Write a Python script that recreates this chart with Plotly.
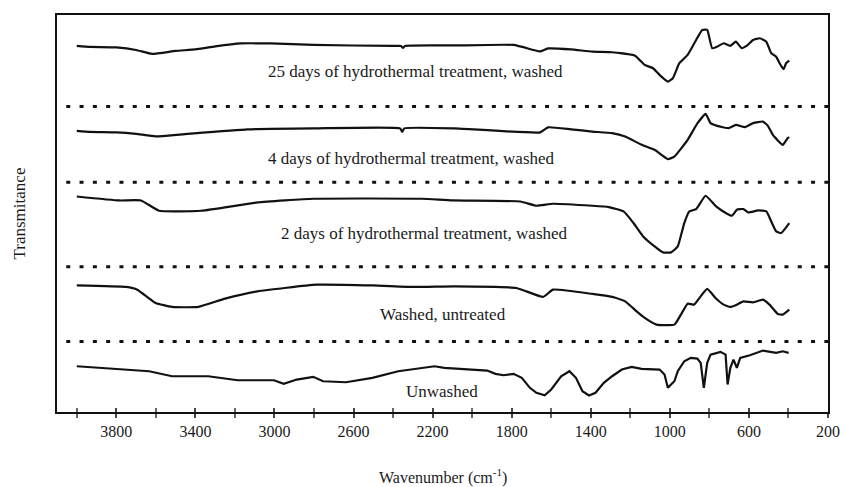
import plotly.graph_objects as go

# ---- data (wavenumber in cm-1, transmittance in arbitrary stacked units) ----
wn_25d = [4000, 3933, 3800, 3700, 3619, 3500, 3400, 3300, 3171, 3021, 2802, 2400, 2360, 2350, 2340, 2090,
          1791, 1690, 1656, 1616, 1500, 1392, 1292, 1176, 1127, 1085, 1052, 1010, 985, 952, 910, 867, 836,
          811, 786, 761, 728, 695, 666, 636, 612, 579, 545, 512, 487, 462, 445, 425, 412, 396]
t_25d = [366.5, 365.5, 365, 362.5, 358.5, 361.5, 363, 366, 369, 369, 367.5, 366.5, 366.5, 364.5, 366.5, 367,
         367.5, 362.5, 361, 364, 363, 360.8, 360.2, 356.8, 347.5, 344.2, 337.5, 330.8, 334.2, 349.2, 357.5,
         372.5, 382.5, 382.5, 364.2, 365.8, 369.2, 366.5, 370.8, 364.2, 366.5, 372.5, 374.2, 370.8, 359.2,
         355.8, 349.2, 343.2, 349.2, 351.8]

wn_4d = [4000, 3933, 3800, 3700, 3601, 3468, 3136, 2800, 2365, 2354, 2343, 2090, 1656, 1616, 1500, 1392,
         1292, 1226, 1142, 1077, 1010, 977, 910, 860, 819, 794, 761, 703, 666, 620, 579, 529, 504, 479, 429,
         404, 396]
t_4d = [281.5, 280.5, 280, 278.5, 276, 278, 283, 284, 284, 280.5, 284, 284, 280, 285, 283, 280.8,
        279.2, 275.8, 267.5, 262.5, 253.2, 255.8, 272.5, 289.2, 298.5, 289.2, 286.5, 284.2, 287.5, 285.2,
        289.2, 290.8, 286.5, 277.5, 267.5, 274.2, 275.2]

wn_2d = [4000, 3784, 3675, 3584, 3370, 3086, 2802, 2254, 2100, 1756, 1676, 1591, 1392, 1309, 1234, 1184,
         1135, 1077, 1035, 994, 960, 927, 902, 867, 819, 766, 717, 686, 661, 628, 603, 554, 512, 487, 462,
         437, 396]
t_2d = [215.8, 211.8, 211.8, 201.5, 201.5, 209.8, 213.5, 213.5, 211.8, 210.8, 206.5, 208.5, 206.5, 205.2,
        200.8, 189.2, 175.8, 165.8, 159.8, 159.8, 165.8, 189.2, 200.8, 203.2, 216.5, 205.8, 199.2, 196.5,
        202.5, 203.2, 199.8, 201.8, 200.8, 190.8, 180.8, 179.2, 189.2]

wn_wu = [4000, 3750, 3694, 3601, 3518, 3385, 3250, 3086, 2787, 2505, 2289, 2090, 1776, 1641, 1591, 1392,
         1292, 1226, 1168, 1127, 1068, 977, 944, 910, 877, 844, 811, 769, 728, 695, 661, 628, 579, 529, 496,
         454, 429, 396]
t_wu = [126.8, 125.2, 122.5, 109.2, 105.2, 105.2, 113.5, 120.8, 127.5, 126.8, 125.2, 125.8, 124.2, 115.2,
        122.5, 118.2, 115.2, 110.8, 100.8, 94.2, 87.5, 87.5, 97.5, 108.5, 107.5, 115.8, 123.2, 114.2, 107.5,
        105.2, 107.5, 110.8, 109.8, 112.5, 107.5, 98.2, 97.5, 102.5]

wn_uw = [4000, 3750, 3634, 3518, 3335, 3186, 3003, 2953, 2887, 2804, 2754, 2638, 2505, 2374, 2190, 2141,
         2024, 1924, 1882, 1841, 1791, 1749, 1708, 1675, 1633, 1600, 1550, 1508, 1475, 1442, 1409, 1376,
         1334, 1292, 1243, 1193, 1143, 1093, 1052, 1027, 1010, 994, 977, 960, 927, 894, 861, 844, 828, 811,
         794, 744, 718, 708, 694, 678, 661, 644, 595, 529, 462, 429, 399]
t_uw = [45.8, 42.5, 40.8, 35.8, 35.8, 31.8, 31.8, 28.2, 32.5, 35.2, 30.8, 29.8, 34.2, 40.8, 45.8, 44.2,
        42.5, 41.5, 38.2, 36.8, 38.2, 34.2, 24.2, 19.2, 16.8, 22.5, 35.8, 40.8, 34.2, 20.8, 16.5, 19.2,
        29.2, 35.8, 42.5, 45.2, 43.2, 43.2, 42.5, 37.5, 24.2, 27.5, 30.8, 40.8, 50.8, 54.2, 53.5, 49.2, 24.2,
        49.2, 57.5, 60.2, 57.5, 27.5, 44.2, 52.5, 44.2, 54.2, 56.8, 61.5, 59.2, 60.8, 59.2]

labels = ["25 days of hydrothermal treatment, washed",
          "4 days of hydrothermal treatment, washed",
          "2 days of hydrothermal treatment, washed",
          "Washed, untreated",
          "Unwashed"]
label_wn = [2289, 2309, 2239, 2150, 2152]
label_t = [340.5, 254, 178.5, 97.5, 20.8]
separators = [306, 230, 145.5, 70.5]

x_ticks = [3800, 3400, 3000, 2600, 2200, 1800, 1400, 1000, 600, 200]
x_range = [4100, 200]
y_range = [0, 397.5]

FONT = "Liberation Serif, Times New Roman, serif"
INK = "#111111"
TXT = "#1a1a1a"

fig = go.Figure()
series = [(wn_25d, t_25d), (wn_4d, t_4d), (wn_2d, t_2d), (wn_wu, t_wu), (wn_uw, t_uw)]
for i, ((wx, ty), name) in enumerate(zip(series, labels)):
    shape = "linear" if i == 4 else "spline"
    fig.add_trace(go.Scatter(x=wx, y=ty, mode="lines", name=name,
                             line=dict(color=INK, width=2.2, shape=shape, smoothing=0.4),
                             showlegend=False))

# invisible trace on overlaid axis for inside ticks
fig.add_trace(go.Scatter(x=x_range, y=y_range, xaxis="x2", mode="markers",
                         marker=dict(opacity=0), showlegend=False, hoverinfo="skip"))

for s in separators:
    fig.add_shape(type="line", xref="paper", x0=0.012, x1=1.0, yref="y", y0=s, y1=s,
                  line=dict(color=INK, width=3, dash="4px,9.3px"))

for txt, lx, ly in zip(labels, label_wn, label_t):
    fig.add_annotation(x=lx, y=ly, text=txt, showarrow=False,
                       font=dict(family=FONT, size=17, color=TXT), xanchor="center", yanchor="middle")

fig.add_annotation(xref="paper", yref="paper", x=-0.048, y=0.5, text="Transmitance", textangle=-90,
                   showarrow=False, xanchor="center", yanchor="middle",
                   font=dict(family=FONT, size=17, color=TXT))
fig.add_annotation(xref="paper", yref="paper", x=0.5, y=-0.1615, text="Wavenumber (cm<sup>-1</sup>)",
                   showarrow=False, font=dict(family=FONT, size=16, color=TXT), yanchor="middle")

axis_line = dict(showline=True, linecolor=INK, linewidth=2)
fig.update_layout(
    width=852, height=487,
    margin=dict(l=57, r=13, t=15, b=74.5),
    paper_bgcolor="white", plot_bgcolor="white",
    font=dict(family=FONT, size=16, color=TXT),
    xaxis=dict(range=x_range, tickvals=x_ticks, ticks="outside", ticklen=4, tickwidth=1.5,
               tickcolor="#444", mirror=True, showgrid=False, zeroline=False,
               minor=dict(dtick=200, tick0=0, ticks="outside", ticklen=4, tickwidth=1.5, tickcolor="#666"),
               tickfont=dict(family=FONT, size=16, color=TXT), **axis_line),
    xaxis2=dict(range=x_range, overlaying="x", side="bottom", tickvals=x_ticks, ticks="inside",
                ticklen=4, tickwidth=1.5, tickcolor="#444", showticklabels=False, showgrid=False,
                zeroline=False, showline=False,
                minor=dict(dtick=200, tick0=0, ticks="inside", ticklen=4, tickwidth=1.5, tickcolor="#666")),
    yaxis=dict(range=y_range, showticklabels=False, ticks="", showgrid=False, zeroline=False,
               mirror=True, **axis_line),
)

fig.write_html("out.html", config={"displayModeBar": False},
               post_script="document.body.style.margin='0';")
